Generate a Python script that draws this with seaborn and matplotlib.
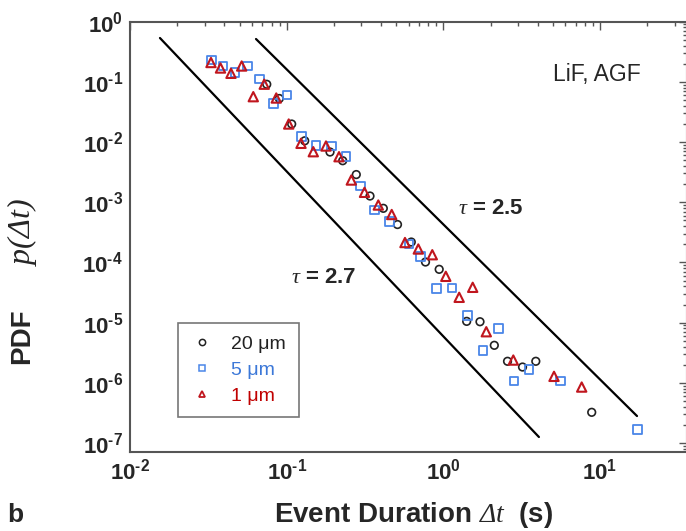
import matplotlib
matplotlib.use("Agg")
import matplotlib.pyplot as plt
import seaborn as sns
import pandas as pd
from matplotlib.lines import Line2D
from matplotlib.ticker import LogLocator, NullFormatter

# ---------------- data ----------------
t_20um = [0.0746, 0.0897, 0.1076, 0.1303, 0.189, 0.2277, 0.278, 0.340, 0.4136, 0.5094,
          0.6238, 0.7687, 0.940, 1.408, 1.712, 2.113, 2.566, 3.198, 3.888, 8.84]
p_20um = [0.0909, 0.0528, 0.0199, 0.01047, 0.00682, 0.00489, 0.00288, 0.001268, 7.92e-4, 4.26e-4,
          2.18e-4, 1.016e-4, 7.68e-5, 1.05e-5, 1.035e-5, 4.2e-6, 2.28e-6, 1.83e-6, 2.28e-6, 3.24e-7]

t_5um = [0.0332, 0.0392, 0.0468, 0.0561, 0.0673, 0.1007, 0.0826, 0.1246, 0.1538, 0.1926,
         0.2390, 0.2958, 0.3633, 0.4516, 0.6035, 0.7145, 0.906, 1.135, 1.421, 2.241,
         1.789, 2.822, 3.518, 5.606, 17.38]
p_5um = [0.2302, 0.1816, 0.1427, 0.1844, 0.1105, 0.0603, 0.0439, 0.01225, 0.00875, 0.00858,
         0.0057, 0.001845, 7.42e-4, 4.83e-4, 2.02e-4, 1.243e-4, 3.715e-5, 3.785e-5, 1.312e-5, 8.04e-6,
         3.47e-6, 1.079e-6, 1.676e-6, 1.071e-6, 1.69e-7]

t_1um = [0.03287, 0.0378, 0.0441, 0.0516, 0.0612, 0.0719, 0.0858, 0.1030, 0.1234, 0.1478,
         0.1781, 0.2157, 0.2584, 0.3137, 0.3842, 0.4679, 0.5686, 0.6916, 0.8494, 1.036,
         1.261, 1.538, 1.878, 2.793, 5.08, 7.63]
p_1um = [0.2092, 0.1695, 0.1384, 0.183, 0.0566, 0.0912, 0.0538, 0.0199, 0.00951, 0.0069,
         0.00858, 0.0057, 0.002337, 0.00146, 8.98e-4, 6.25e-4, 2.14e-4, 1.67e-4, 1.342e-4, 5.875e-5,
         2.633e-5, 3.86e-5, 7.06e-6, 2.39e-6, 1.282e-6, 8.51e-7]

# guide lines (end points)
guide_27_t = [0.01553, 4.07]
guide_27_p = [0.534, 1.26e-7]
guide_25_t = [0.0637, 17.2]
guide_25_p = [0.514, 2.81e-7]

series_labels = ["20 \u03bcm", "5 \u03bcm", "1 \u03bcm"]
xtick_values = [1e-2, 1e-1, 1e0, 1e1]
xtick_labels = ["$\\mathbf{10^{\u20102}}$", "$\\mathbf{10^{\u20101}}$", r"$\mathbf{10^{0}}$", r"$\mathbf{10^{1}}$"]
ytick_values = [1e0, 1e-1, 1e-2, 1e-3, 1e-4, 1e-5, 1e-6, 1e-7]
ytick_labels = [r"$\mathbf{10^{0}}$", "$\\mathbf{10^{\u20101}}$", "$\\mathbf{10^{\u20102}}$",
                "$\\mathbf{10^{\u20103}}$", "$\\mathbf{10^{\u20104}}$", "$\\mathbf{10^{\u20105}}$",
                "$\\mathbf{10^{\u20106}}$", "$\\mathbf{10^{\u20107}}$"]

# ---------------- style ----------------
sns.set_style("white")
plt.rcParams["font.family"] = ["Liberation Sans", "DejaVu Sans"]
plt.rcParams["mathtext.fontset"] = "custom"
plt.rcParams["mathtext.rm"] = "Liberation Serif:italic"
plt.rcParams["mathtext.it"] = "Liberation Serif:italic"
plt.rcParams["mathtext.bf"] = "Liberation Sans:bold"

spine_col = "#555555"
black = "#222222"
blue = "#4a86e8"
red = "#c0161e"

fig = plt.figure(figsize=(6.86, 5.31), dpi=100)
ax = fig.add_axes([130 / 686, 79 / 531, 556.5 / 686, 430.4 / 531])
ax.set_xscale("log")
ax.set_yscale("log")

# guide lines
sns.lineplot(x=guide_27_t, y=guide_27_p, ax=ax, color="black", linewidth=1.6, sort=False)
sns.lineplot(x=guide_25_t, y=guide_25_p, ax=ax, color="black", linewidth=1.6, sort=False)

# data
df20 = pd.DataFrame({"t": t_20um, "p": p_20um})
df5 = pd.DataFrame({"t": t_5um, "p": p_5um})
df1 = pd.DataFrame({"t": t_1um, "p": p_1um})
sns.scatterplot(data=df20, x="t", y="p", ax=ax, marker="o", s=30,
                facecolor="none", edgecolor=black, linewidth=1.2, zorder=3)
sns.scatterplot(data=df5, x="t", y="p", ax=ax, marker="s", s=38,
                facecolor="none", edgecolor=blue, linewidth=1.3, zorder=4)
sns.scatterplot(data=df1, x="t", y="p", ax=ax, marker="^", s=45,
                facecolor="none", edgecolor=red, linewidth=1.5, zorder=5)

ax.set_xlim(0.01, 10 ** (-2 + 556.5 / 156.7))
ax.set_ylim(7.1e-8, 1.0)

ax.set_xticks(xtick_values)
ax.set_xticklabels(xtick_labels)
ax.set_yticks(ytick_values)
ax.set_yticklabels(ytick_labels)
ax.xaxis.set_minor_locator(LogLocator(base=10, subs=range(2, 10), numticks=20))
ax.yaxis.set_minor_locator(LogLocator(base=10, subs=range(2, 10), numticks=20))
ax.xaxis.set_minor_formatter(NullFormatter())
ax.yaxis.set_minor_formatter(NullFormatter())
ax.tick_params(which="both", direction="in", top=True, right=True, color=spine_col,
               labelsize=16, width=1.0)
ax.tick_params(which="major", length=6, pad=5)
ax.tick_params(which="minor", length=3)
for sp in ax.spines.values():
    sp.set_color(spine_col)
    sp.set_linewidth(1.5)
ax.set_xlabel("")
ax.set_ylabel("")

# annotations
ax.text(2.01, 8.0e-4, r"$\tau$ = 2.5", fontsize=16, fontweight="bold", ha="center", va="center")
ax.text(0.172, 5.72e-5, r"$\tau$ = 2.7", fontsize=16, fontweight="bold", ha="center", va="center")
ax.text(0.839, 0.878, "LiF, AGF", transform=ax.transAxes, fontsize=16.5, ha="center", va="center")

# legend
handles = [
    Line2D([], [], linestyle="none", marker="o", markersize=4.5, markerfacecolor="none",
           markeredgecolor=black, markeredgewidth=1.1),
    Line2D([], [], linestyle="none", marker="s", markersize=5, markerfacecolor="none",
           markeredgecolor=blue, markeredgewidth=1.1),
    Line2D([], [], linestyle="none", marker="^", markersize=5, markerfacecolor="none",
           markeredgecolor=red, markeredgewidth=1.3),
]
leg = ax.legend(handles, series_labels, loc="upper left", bbox_to_anchor=(0.0863, 0.2997),
                borderaxespad=0, fontsize=14, labelcolor=[black, "#3c78d8", "#c00000"],
                frameon=True, fancybox=False, handlelength=1.2, handletextpad=0.9,
                labelspacing=0.42, borderpad=0.65)
leg.get_frame().set_edgecolor("#555555")
leg.get_frame().set_linewidth(1.2)

fig.text(414 / 686, 1 - 515 / 531, r"Event Duration $\Delta t$  (s)", fontsize=20,
         fontweight="bold", ha="center", va="center")
fig.text(22 / 686, 1 - 336 / 531, "PDF", fontsize=20, fontweight="bold",
         rotation=90, ha="center", va="center")
fig.text(22 / 686, 1 - 232 / 531, r"$p(\Delta t)$", fontsize=23,
         rotation=90, ha="center", va="center")
fig.text(15 / 686, 1 - 515 / 531, "b", fontsize=19, fontweight="bold", ha="center", va="center")

fig.savefig("out.png", dpi=100)
